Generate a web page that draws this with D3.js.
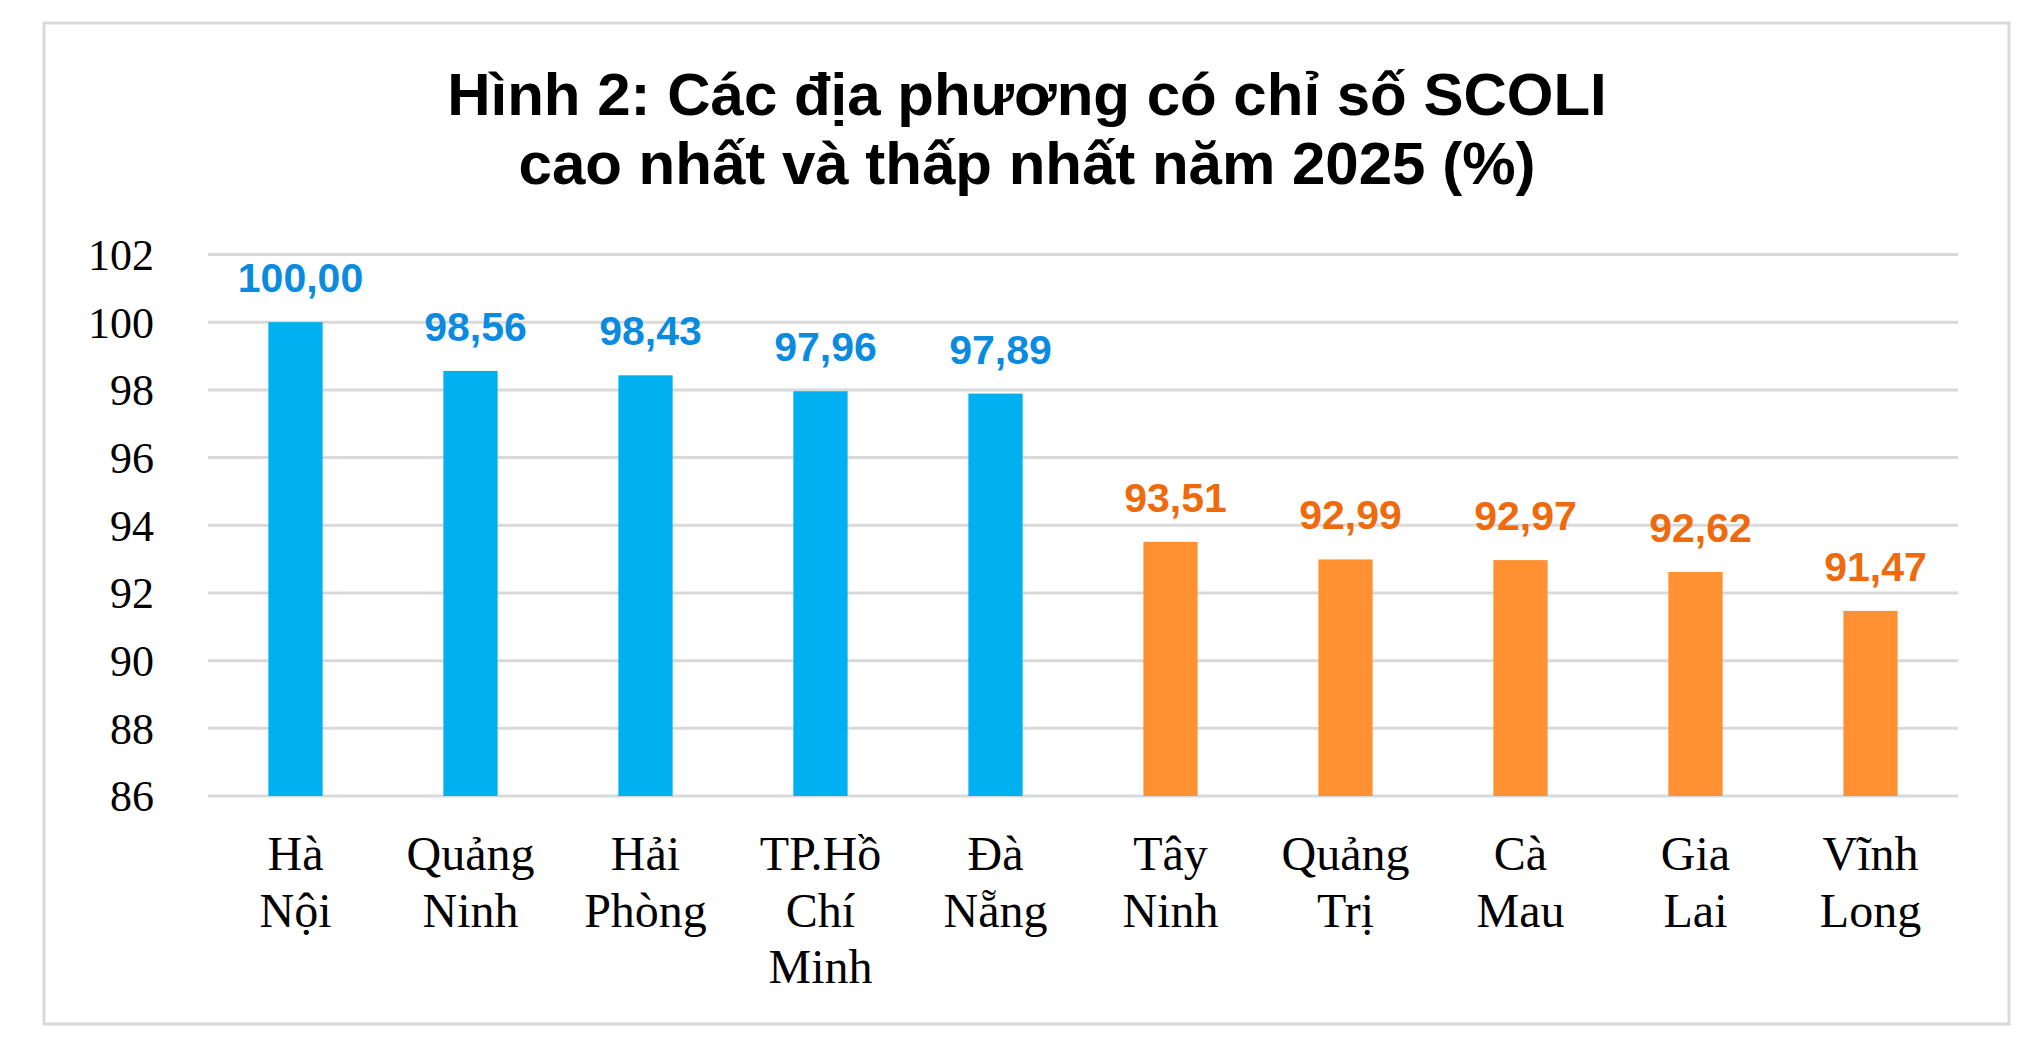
<!DOCTYPE html>
<html>
<head>
<meta charset="utf-8">
<script src="https://cdn.jsdelivr.net/npm/d3@7"></script>
<style>
  html, body { margin: 0; padding: 0; background: #ffffff; }
  svg { display: block; }
</style>
</head>
<body>
<script>
// ---- Data ----
const categories = [
  ["Hà", "Nội"],
  ["Quảng", "Ninh"],
  ["Hải", "Phòng"],
  ["TP.Hồ", "Chí", "Minh"],
  ["Đà", "Nẵng"],
  ["Tây", "Ninh"],
  ["Quảng", "Trị"],
  ["Cà", "Mau"],
  ["Gia", "Lai"],
  ["Vĩnh", "Long"]
];
const values = [100.00, 98.56, 98.43, 97.96, 97.89, 93.51, 92.99, 92.97, 92.62, 91.47];
const groups = ["high", "high", "high", "high", "high", "low", "low", "low", "low", "low"];
const yTicks = [86, 88, 90, 92, 94, 96, 98, 100, 102];
const titleLines = ["Hình 2: Các địa phương có chỉ số SCOLI", "cao nhất và thấp nhất năm 2025 (%)"];

// ---- Styles ----
const W = 2034, H = 1062;
const barColor = { high: "#00B0F0", low: "#FF9133" };
const labelColor = { high: "#0A8BDF", low: "#EE6A0C" };
const gridColor = "#D9D9D9";

const svg = d3.select("body").append("svg").attr("width", W).attr("height", H);
svg.append("rect").attr("width", W).attr("height", H).attr("fill", "#fff");

// outer border
svg.append("rect")
  .attr("x", 44).attr("y", 23).attr("width", 1965).attr("height", 1001)
  .attr("fill", "none").attr("stroke", gridColor).attr("stroke-width", 3);

// title
const title = svg.append("text")
  .attr("text-anchor", "middle")
  .attr("font-family", "'Liberation Sans', Arial, sans-serif")
  .attr("font-weight", "bold").attr("font-size", 60).attr("fill", "#000");
titleLines.forEach((t, i) => {
  title.append("tspan").attr("x", 1027).attr("y", 115 + i * 69).text(t);
});

// scales
const left = 208, right = 1958;
const y = d3.scaleLinear().domain([86, 102]).range([796, 254.5]);
const idx = d3.range(values.length);
const x = d3.scaleBand().domain(idx).range([left, right]).paddingInner(0.69).paddingOuter(0.345);

// gridlines
svg.append("g").selectAll("line").data(yTicks).join("line")
  .attr("x1", left).attr("x2", right)
  .attr("y1", d => y(d)).attr("y2", d => y(d))
  .attr("stroke", gridColor).attr("stroke-width", 3);

// y axis labels
const yAxis = d3.axisLeft(y).tickValues(yTicks).tickSize(0).tickPadding(0).tickFormat(d3.format("d"));
const gy = svg.append("g").attr("transform", "translate(154,0)").call(yAxis);
gy.select(".domain").remove();
gy.selectAll("text")
  .attr("font-family", "'Liberation Serif', 'Times New Roman', serif")
  .attr("font-size", 44).attr("fill", "#000").attr("dy", "0.34em");

// bars
svg.append("g").selectAll("rect").data(idx).join("rect")
  .attr("x", i => x(i)).attr("width", x.bandwidth())
  .attr("y", i => y(values[i])).attr("height", i => y(86) - y(values[i]))
  .attr("fill", i => barColor[groups[i]]);

// value labels
const fmt = v => v.toFixed(2).replace(".", ",");
svg.append("g").selectAll("text").data(idx).join("text")
  .attr("x", i => x(i) + x.bandwidth() / 2 + 5)
  .attr("y", i => y(values[i]) - 30)
  .attr("text-anchor", "middle")
  .attr("font-family", "'Liberation Sans', Arial, sans-serif")
  .attr("font-weight", "bold").attr("font-size", 41)
  .attr("fill", i => labelColor[groups[i]])
  .text(i => fmt(values[i]));

// x axis category labels
const xl = svg.append("g").selectAll("text").data(idx).join("text")
  .attr("text-anchor", "middle")
  .attr("font-family", "'Liberation Serif', 'Times New Roman', serif")
  .attr("font-size", 48).attr("fill", "#000");
xl.each(function(i) {
  const t = d3.select(this);
  categories[i].forEach((line, k) => {
    t.append("tspan").attr("x", x(i) + x.bandwidth() / 2).attr("y", 870 + k * 56.5).text(line);
  });
});
</script>
</body>
</html>
